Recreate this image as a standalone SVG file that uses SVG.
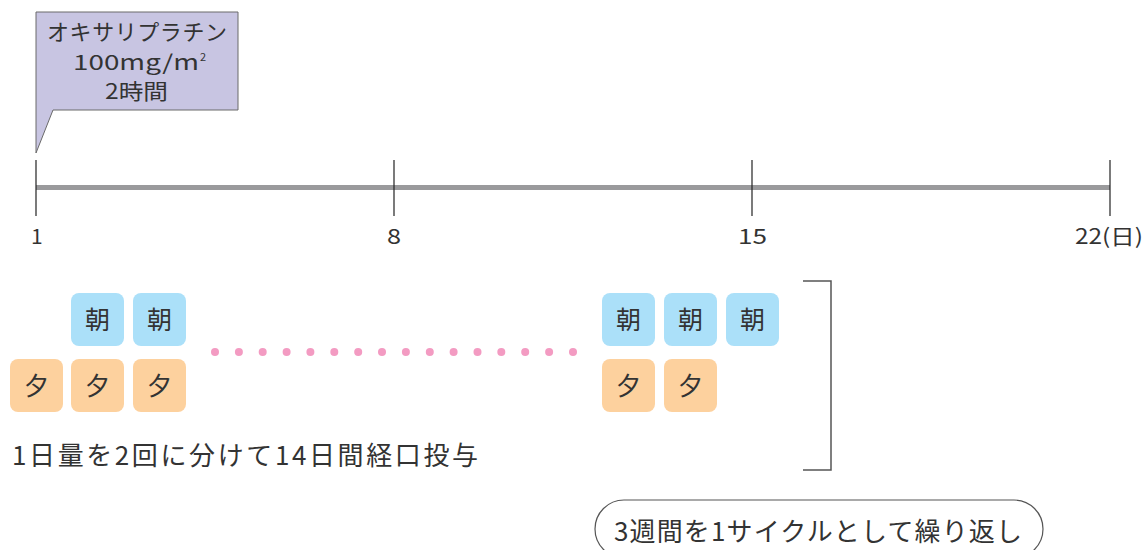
<svg xmlns="http://www.w3.org/2000/svg" width="1147" height="550" viewBox="0 0 1147 550">
<style>
text{font-family:"Noto Sans CJK JP","Noto Sans",sans-serif;fill:#333;}
.lbl{font-size:21px;}
.box text{font-size:25px;text-anchor:middle;}
.am{fill:#abe0f9;}
.pm{fill:#fdd19e;}
.tick{stroke:#222;stroke-width:1.2;}
.dot{fill:#f39bc2;}
</style>
<rect width="1147" height="550" fill="#fff"/>
<g id="callout">
<polygon points="36,12 238,12 238,110 53,110 36,153" fill="#c8c5e2" stroke="#6a6a6a" stroke-width="1"/>
<text x="47" y="40" font-size="22" textLength="180">オキサリプラチン</text>
<text x="73" y="70" font-size="21"><tspan textLength="126" lengthAdjust="spacingAndGlyphs">100mg/m</tspan><tspan font-size="11" dx="1" dy="-9">2</tspan></text>
<text x="105" y="99" font-size="21" textLength="63" lengthAdjust="spacingAndGlyphs">2時間</text>
</g>
<g id="timeline">
<rect x="36" y="185" width="1074" height="5" fill="#9a9a9c"/>
<line class="tick" x1="36" y1="160" x2="36" y2="216"/>
<line class="tick" x1="394" y1="160" x2="394" y2="216"/>
<line class="tick" x1="752" y1="160" x2="752" y2="216"/>
<line class="tick" x1="1110" y1="160" x2="1110" y2="216"/>
<text class="lbl" x="31" y="244">1</text>
<text class="lbl" x="387" y="244" textLength="14" lengthAdjust="spacingAndGlyphs">8</text>
<text class="lbl" x="738" y="244" textLength="29" lengthAdjust="spacingAndGlyphs">15</text>
<text class="lbl" x="1075" y="244" textLength="68" lengthAdjust="spacingAndGlyphs">22(日)</text>
</g>
<g id="doses-start" class="box">
<rect class="am" x="71" y="293" width="53" height="53" rx="8"/><text x="97.5" y="329">朝</text>
<rect class="am" x="133" y="293" width="53" height="53" rx="8"/><text x="159.5" y="329">朝</text>
<rect class="pm" x="10" y="359" width="53" height="53" rx="8"/><text x="36.5" y="395">夕</text>
<rect class="pm" x="71" y="359" width="53" height="53" rx="8"/><text x="97.5" y="395">夕</text>
<rect class="pm" x="133" y="359" width="53" height="53" rx="8"/><text x="159.5" y="395">夕</text>
</g>
<g id="dots">
<circle class="dot" cx="215" cy="352" r="4"/><circle class="dot" cx="238.9" cy="352" r="4"/><circle class="dot" cx="262.7" cy="352" r="4"/><circle class="dot" cx="286.6" cy="352" r="4"/><circle class="dot" cx="310.4" cy="352" r="4"/><circle class="dot" cx="334.3" cy="352" r="4"/><circle class="dot" cx="358.2" cy="352" r="4"/><circle class="dot" cx="382" cy="352" r="4"/><circle class="dot" cx="405.9" cy="352" r="4"/><circle class="dot" cx="429.8" cy="352" r="4"/><circle class="dot" cx="453.6" cy="352" r="4"/><circle class="dot" cx="477.5" cy="352" r="4"/><circle class="dot" cx="501.3" cy="352" r="4"/><circle class="dot" cx="525.2" cy="352" r="4"/><circle class="dot" cx="549.1" cy="352" r="4"/><circle class="dot" cx="573" cy="352" r="4"/>
</g>
<g id="doses-end" class="box">
<rect class="am" x="602" y="293" width="53" height="53" rx="8"/><text x="628.5" y="329">朝</text>
<rect class="am" x="664" y="293" width="53" height="53" rx="8"/><text x="690.5" y="329">朝</text>
<rect class="am" x="726" y="293" width="53" height="53" rx="8"/><text x="752.5" y="329">朝</text>
<rect class="pm" x="602" y="359" width="53" height="53" rx="8"/><text x="628.5" y="395">夕</text>
<rect class="pm" x="664" y="359" width="53" height="53" rx="8"/><text x="690.5" y="395">夕</text>
</g>
<g id="bracket">
<polyline points="803,281 831,281 831,470 803,470" fill="none" stroke="#555" stroke-width="1.5"/>
</g>
<g id="note">
<text x="12" y="465" font-size="26" textLength="466">1日量を2回に分けて14日間経口投与</text>
</g>
<g id="cycle">
<rect x="595" y="500" width="448" height="58" rx="29" fill="#fff" stroke="#555" stroke-width="1.2"/>
<text x="614" y="541" font-size="26" textLength="408">3週間を1サイクルとして繰り返し</text>
</g>
</svg>
